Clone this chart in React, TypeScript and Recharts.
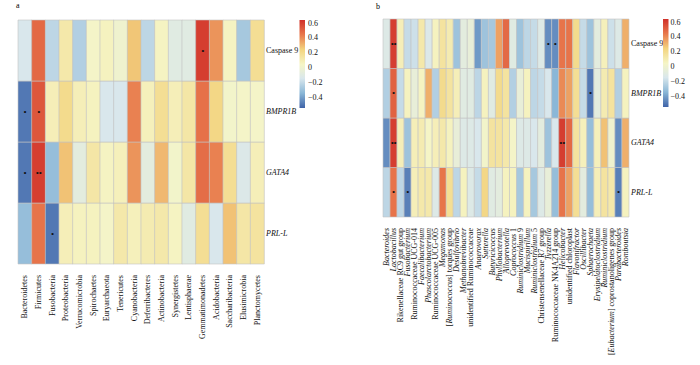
import React from 'react';
import { BarChart, Bar, XAxis, YAxis, Cell, LabelList } from 'recharts';

const FONT = '"Liberation Serif", "Times New Roman", serif';

// ---------- data ----------
const rowLabels = ['Caspase 9', 'BMPR1B', 'GATA4', 'PRL-L'];
const italicRows = ['BMPR1B', 'GATA4', 'PRL-L'];

const phylaA = ['Bacteroidetes', 'Firmicutes', 'Fusobacteria', 'Proteobacteria', 'Verrucomicrobia', 'Spirochaetes', 'Euryarchaeota', 'Tenericutes', 'Cyanobacteria', 'Deferribacteres', 'Actinobacteria', 'Synergistetes', 'Lentisphaerae', 'Gemmatimonadetes', 'Acidobacteria', 'Saccharibacteria', 'Elusimicrobia', 'Planctomycetes'];

const caspaseA = [-0.15, 0.48, -0.22, 0.12, -0.25, 0.03, 0.06, 0.0, 0.27, -0.22, 0.05, -0.1, -0.1, 0.6, 0.38, 0.05, -0.28, 0.18];
const bmprA = [-0.5, 0.53, 0.08, 0.2, 0.08, 0.06, -0.15, -0.15, 0.42, 0.07, 0.18, 0.08, 0.13, 0.46, 0.22, 0.02, 0.03, 0.03];
const gataA = [-0.5, 0.6, -0.32, 0.28, -0.08, 0.13, 0.05, 0.07, 0.38, -0.08, 0.3, 0.02, 0.13, 0.47, 0.42, 0.18, -0.13, 0.08];
const prlA = [-0.32, 0.45, -0.5, 0.08, 0.06, 0.06, 0.03, 0.12, 0.07, 0.1, 0.12, 0.05, -0.1, 0.18, -0.15, 0.28, 0.13, 0.15];

const starsCaspaseA = ['', '', '', '', '', '', '', '', '', '', '', '', '', '*', '', '', '', ''];
const starsBmprA = ['*', '*', '', '', '', '', '', '', '', '', '', '', '', '', '', '', '', ''];
const starsGataA = ['*', '**', '', '', '', '', '', '', '', '', '', '', '', '', '', '', '', ''];
const starsPrlA = ['', '', '*', '', '', '', '', '', '', '', '', '', '', '', '', '', '', ''];

const generaB = ['Bacteroides', 'Lactobacillus', 'Rikenellaceae RC9 gut group', 'Fusobacterium', 'Ruminococcaceae UCG-014', 'Faecalibacterium', 'Phascolarctobacterium', 'Ruminococcaceae UCG-005', 'Megamonas', '[Ruminococcus] torques group', 'Desulfovibrio', 'Methanobrevibacter', 'unidentified Ruminococcaceae', 'Anaerovorax', 'Sutterella', 'Butyricicoccus', 'Phyllobacterium', 'Alloprevotella', 'Coprococcus 1', 'Ruminiclostridium 9', 'Mucispirillum', 'Ruminiclostridium 5', 'Christensenellaceae R7 group', 'Tyzzerella', 'Ruminococcaceae NK4A214 group', 'Helicobacter', 'unidentified chloroplast', 'Flavonifractor', 'Oscillibacter', 'Sphaerochaeta', 'Erysipelatoclostridium', 'Ruminiclostridium', '[Eubacterium] coprostanoligenes group', 'Parabacteroides', 'Romboutsia'];

const italicGenera = ['Bacteroides', 'Lactobacillus', 'Fusobacterium', 'Faecalibacterium', 'Phascolarctobacterium', 'Megamonas', 'Ruminococcus', 'Desulfovibrio', 'Methanobrevibacter', 'Anaerovorax', 'Sutterella', 'Butyricicoccus', 'Phyllobacterium', 'Alloprevotella', 'Coprococcus', 'Ruminiclostridium', 'Mucispirillum', 'Tyzzerella', 'Helicobacter', 'Flavonifractor', 'Oscillibacter', 'Sphaerochaeta', 'Erysipelatoclostridium', 'Eubacterium', 'Parabacteroides', 'Romboutsia'];

const caspaseB = [-0.12, 0.6, 0.08, -0.2, -0.18, 0.12, -0.13, 0.06, 0.15, 0.1, -0.3, -0.08, -0.05, -0.42, -0.3, -0.28, 0.35, 0.48, -0.1, -0.3, -0.22, -0.2, -0.12, -0.45, -0.45, 0.45, 0.45, 0.2, -0.2, -0.3, -0.08, 0.07, -0.18, -0.12, 0.32];
const bmprB = [-0.25, 0.5, -0.2, 0.06, -0.05, 0.05, 0.32, -0.25, 0.2, 0.15, 0.08, -0.1, -0.1, -0.22, 0.06, -0.1, 0.2, 0.15, -0.25, -0.05, 0.06, -0.22, -0.2, -0.15, -0.35, 0.4, 0.35, 0.18, -0.2, -0.5, -0.08, 0.1, 0.15, -0.25, 0.06];
const gataB = [-0.45, 0.6, 0.08, -0.3, 0.08, 0.1, 0.04, 0.08, 0.12, 0.06, -0.05, -0.12, -0.12, -0.15, 0.02, 0.15, 0.15, 0.12, 0.03, -0.12, -0.12, -0.15, -0.08, -0.3, -0.15, 0.6, 0.48, 0.15, 0.07, -0.32, 0.07, 0.28, 0.0, -0.45, 0.32];
const prlB = [-0.22, 0.45, -0.22, -0.48, 0.08, 0.12, 0.12, -0.12, 0.45, 0.18, -0.22, 0.06, -0.12, -0.2, 0.22, -0.1, -0.08, 0.06, 0.06, -0.28, 0.06, -0.28, -0.12, -0.05, -0.32, 0.45, 0.35, 0.18, -0.08, -0.32, 0.08, 0.15, 0.12, -0.48, 0.06];

const emptyB = () => generaB.map(() => '');
const starsCaspaseB = emptyB(); starsCaspaseB[1] = '**'; starsCaspaseB[23] = '*'; starsCaspaseB[24] = '*';
const starsBmprB = emptyB(); starsBmprB[1] = '*'; starsBmprB[29] = '*';
const starsGataB = emptyB(); starsGataB[1] = '**'; starsGataB[25] = '**';
const starsPrlB = emptyB(); starsPrlB[1] = '*'; starsPrlB[3] = '*'; starsPrlB[33] = '*';

const colorbarTicks = [0.6, 0.4, 0.2, 0, -0.2, -0.4];

// ---------- colour scale ----------
const COLOR_MAX = 0.64;
const COLOR_MIN = -0.55;
const colorStops: [number, string][] = [
  [-0.55, '#3f63a8'],
  [-0.35, '#8ab7d7'],
  [-0.15, '#d9e7ec'],
  [0.04, '#f5f5c6'],
  [0.24, '#f3d47f'],
  [0.44, '#e8784c'],
  [0.64, '#d02f29'],
];
function hexToRgb(h: string) {
  return [parseInt(h.slice(1, 3), 16), parseInt(h.slice(3, 5), 16), parseInt(h.slice(5, 7), 16)];
}
function colorFor(v: number) {
  if (v <= colorStops[0][0]) return colorStops[0][1];
  for (let i = 1; i < colorStops.length; i++) {
    if (v <= colorStops[i][0]) {
      const [v0, c0] = colorStops[i - 1];
      const [v1, c1] = colorStops[i];
      const t = (v - v0) / (v1 - v0);
      const a = hexToRgb(c0), b = hexToRgb(c1);
      const c = a.map((x, k) => Math.round(x + (b[k] - x) * t));
      return `rgb(${c[0]},${c[1]},${c[2]})`;
    }
  }
  return colorStops[colorStops.length - 1][1];
}

// ---------- helpers ----------
function renderLabelParts(label: string, italics: string[]) {
  const parts = label.split(/([A-Za-z]+)/).filter((p) => p !== '');
  return parts.map((p, i) => (
    <tspan key={i} fontStyle={italics.includes(p) ? 'italic' : 'normal'}>{p}</tspan>
  ));
}

function makeXTick(italics: string[]) {
  return (props: any) => {
    const { x, y, payload } = props;
    return (
      <g transform={`translate(${x},${y})`}>
        <text transform="rotate(-90)" x={-3} y={0} dy="0.33em" textAnchor="end" fontSize={8} fontFamily={FONT} fill="#111">
          {renderLabelParts(String(payload.value), italics)}
        </text>
      </g>
    );
  };
}

function YTick(props: any) {
  const { x, y, payload } = props;
  const label = rowLabels[rowLabels.length - 1 - Math.floor(payload.value)];
  return (
    <text x={x} y={y} dy="0.33em" textAnchor="start" fontSize={8} fontFamily={FONT} fill="#111" fontStyle={italicRows.includes(label) ? 'italic' : 'normal'}>
      {label}
    </text>
  );
}

function StarLabel(props: any) {
  const { x, y, width, height, value } = props;
  if (!value) return null;
  return (
    <text x={x + width / 2} y={y + height / 2} dy="0.34em" textAnchor="middle" fontSize={9} fontFamily={FONT} fill="#111" letterSpacing={-0.3}>
      {String(value).replace(/\*/g, '•')}
    </text>
  );
}

type HeatmapProps = {
  categories: string[];
  rows: number[][];
  stars: string[][];
  width: number;
  height: number;
  margin: { top: number; right: number; bottom: number; left: number };
  xAxisHeight: number;
  yAxisWidth: number;
  italics: string[];
};

function Heatmap({ categories, rows, stars, width, height, margin, xAxisHeight, yAxisWidth, italics }: HeatmapProps) {
  const data = categories.map((name, i) => {
    const d: any = { name };
    rows.forEach((r, k) => {
      d['v' + k] = r[i];
      d['c' + k] = 1;
      d['s' + k] = stars[k][i];
    });
    return d;
  });
  const order = rows.map((_, k) => rows.length - 1 - k); // bottom row first in the stack
  return (
    <BarChart width={width} height={height} data={data} margin={margin} barCategoryGap={0} barGap={0}>
      <XAxis dataKey="name" type="category" interval={0} tick={makeXTick(italics)} tickLine={false} axisLine={false} height={xAxisHeight} />
      <YAxis type="number" domain={[0, rows.length]} ticks={rows.map((_, k) => k + 0.5)} orientation="right" width={yAxisWidth} tick={YTick} tickLine={false} axisLine={false} tickSize={0} tickMargin={2} />
      {order.map((k) => (
        <Bar key={k} dataKey={'c' + k} stackId="h" isAnimationActive={false} stroke="#c2c2c2" strokeWidth={0.6}>
          {data.map((d: any, i: number) => (
            <Cell key={i} fill={colorFor(d['v' + k])} />
          ))}
          <LabelList dataKey={'s' + k} content={StarLabel} />
        </Bar>
      ))}
    </BarChart>
  );
}

function ColorBar({ left, top, barHeight, labelX }: { left: number; top: number; barHeight: number; labelX: number }) {
  const yOf = (v: number) => top + ((COLOR_MAX - v) / (COLOR_MAX - COLOR_MIN)) * barHeight;
  const id = `grad-${Math.round(left)}`;
  return (
    <svg width={700} height={365} style={{ position: 'absolute', left: 0, top: 0, pointerEvents: 'none' }}>
      <defs>
        <linearGradient id={id} x1="0" y1="0" x2="0" y2="1">
          {colorStops.slice().reverse().map(([v, c], i) => (
            <stop key={i} offset={(COLOR_MAX - v) / (COLOR_MAX - COLOR_MIN)} stopColor={c} />
          ))}
        </linearGradient>
      </defs>
      <rect x={left} y={top} width={5.5} height={barHeight} fill={`url(#${id})`} />
      {colorbarTicks.map((t) => (
        <text key={t} x={labelX} y={yOf(t)} dy="0.33em" fontSize={8} fontFamily={FONT} fill="#111">
          {t < 0 ? '\u2212' + Math.abs(t) : String(t)}
        </text>
      ))}
    </svg>
  );
}

export default function App() {
  return (
    <div style={{ position: 'absolute', left: 0, top: 0, width: 700, height: 365, background: '#fff', fontFamily: FONT }}>
      <div style={{ position: 'absolute', left: 0, top: 0 }}>
        <Heatmap
          categories={phylaA}
          rows={[caspaseA, bmprA, gataA, prlA]}
          stars={[starsCaspaseA, starsBmprA, starsGataA, starsPrlA]}
          width={350}
          height={365}
          margin={{ top: 20, left: 18, right: 46, bottom: 11 }}
          xAxisHeight={90}
          yAxisWidth={40}
          italics={[]}
        />
      </div>
      <div style={{ position: 'absolute', left: 350, top: 0 }}>
        <Heatmap
          categories={generaB}
          rows={[caspaseB, bmprB, gataB, prlB]}
          stars={[starsCaspaseB, starsBmprB, starsGataB, starsPrlB]}
          width={350}
          height={365}
          margin={{ top: 19, left: 33, right: 37, bottom: 8 }}
          xAxisHeight={140}
          yAxisWidth={34}
          italics={italicGenera}
        />
      </div>
      <ColorBar left={299.5} top={20} barHeight={88} labelX={308} />
      <ColorBar left={663} top={19} barHeight={88} labelX={670.5} />
      <div style={{ position: 'absolute', left: 16, top: 1, fontSize: 8, fontFamily: FONT }}>a</div>
      <div style={{ position: 'absolute', left: 376, top: 2, fontSize: 8, fontFamily: FONT }}>b</div>
    </div>
  );
}
